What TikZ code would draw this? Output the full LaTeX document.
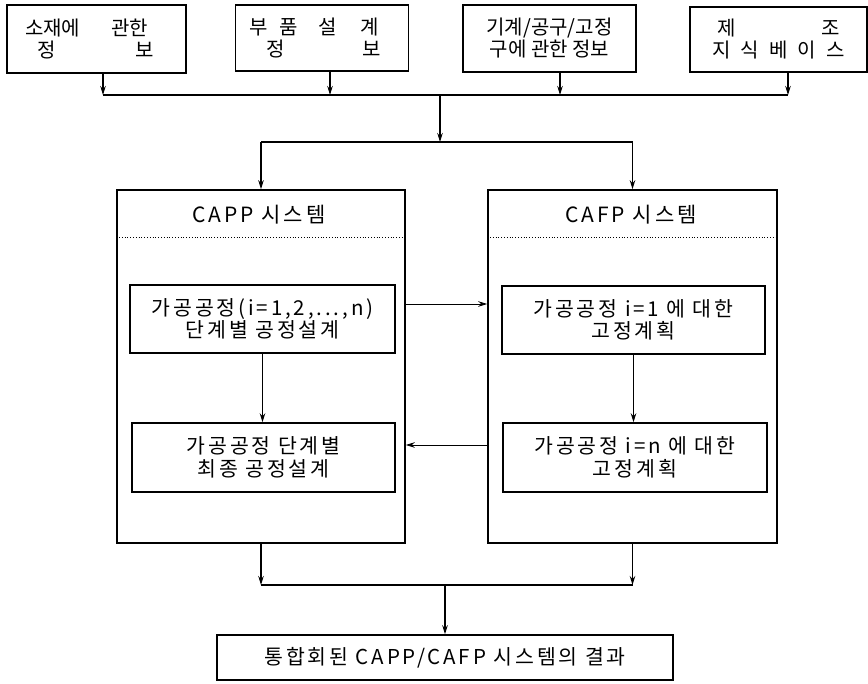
\documentclass[tikz,border=0pt]{standalone}
\usepackage{fontspec}
\setmainfont{Noto Sans CJK KR}
\newfontfamily\krs[LetterSpace=14]{Noto Sans CJK KR}
\usetikzlibrary{arrows.meta}
\begin{document}
\begin{tikzpicture}[x=1pt,y=-1pt,
  topbox/.style={draw,line width=1.5pt,inner sep=0pt,align=center,font=\fontsize{20}{22}\selectfont},
  box/.style={draw,line width=1.5pt,inner sep=0pt,align=center,font=\krs\fontsize{20.5}{22.5}\selectfont},
  outer/.style={draw,line width=1.6pt,inner sep=0pt},
  conn/.style={line width=1.2pt},
  arr/.style={line width=1.2pt,-{Stealth[length=9pt,width=5.5pt]}},
  thin/.style={line width=0.9pt,-{Stealth[length=9pt,width=5.5pt]}},
  lbl/.style={inner sep=0pt,font=\krs\fontsize{21}{22}\selectfont}]
\useasboundingbox (0,0) rectangle (868,684);
% top boxes
\node[topbox,minimum width=179pt,minimum height=68pt] (b1) at (96.5,39)
  {\makebox[179pt][l]{\hspace*{18pt}소재에\hspace*{31pt}관한}\\\makebox[179pt][l]{\hspace*{31pt}정\hspace*{79pt}보}};
\node[topbox,minimum width=173pt,minimum height=66pt] (b2) at (322,38)
  {\makebox[173pt][l]{\hspace*{14pt}부\hspace*{12pt}품\hspace*{20pt}설\hspace*{24pt}계}\\\makebox[173pt][l]{\hspace*{31pt}정\hspace*{78pt}보}};
\node[topbox,minimum width=173pt,minimum height=67pt] (b3) at (549.5,38.5)
  {기계/공구/고정\\구에 관한 정보};
\node[topbox,minimum width=177pt,minimum height=65pt] (b4) at (778.5,39.5)
  {\makebox[122pt]{제\hfill 조}\\\makebox[133pt]{지\hfill 식\hfill 베\hfill 이\hfill 스}};
% bus coordinates
\coordinate (t1) at (103,95);
\coordinate (t2) at (330,95);
\coordinate (t3) at (560,95);
\coordinate (t4) at (788,95);
\coordinate (m) at (440,95);
\coordinate (m2) at (440,142);
% system boxes
\node[outer,minimum width=288pt,minimum height=353pt] (capp) at (261,366.5) {};
\node[outer,minimum width=289pt,minimum height=353pt] (cafp) at (632.5,366.5) {};
\node[lbl] (cappt) at (259,215) {CAPP 시스템};
\node[lbl] (cafpt) at (631,215) {CAFP 시스템};
\draw[line width=0.8pt,dotted] (capp.west |- 0,237) -- (capp.east |- 0,237);
\draw[line width=0.8pt,dotted] (cafp.west |- 0,237) -- (cafp.east |- 0,237);
% inner boxes
\node[box,minimum width=265pt,minimum height=68pt] (in1) at (262.5,319)
  {가공공정(i=1,2,...,n)\\단계별 공정설계};
\node[box,minimum width=263pt,minimum height=69pt] (in2) at (263.5,457.5)
  {가공공정 단계별\\최종 공정설계};
\node[box,minimum width=263pt,minimum height=68pt] (fn1) at (633.5,320)
  {가공공정 i=1 에 대한\\고정계획};
\node[box,minimum width=264pt,minimum height=69pt] (fn2) at (635,457.5)
  {가공공정 i=n 에 대한\\고정계획};
% final box
\node[box,minimum width=456pt,minimum height=45pt] (fin) at (445,657.5)
  {통합회된 CAPP/CAFP 시스템의 결과};
% top connectors
\draw[arr] (b1.south -| t1) -- (t1);
\draw[arr] (b2.south -| t2) -- (t2);
\draw[arr] (b3.south -| t3) -- (t3);
\draw[arr] (b4.south -| t4) -- (t4);
\draw[conn] (t1) -- (t4);
\draw[arr] (m) -- (m2);
\draw[conn] (capp.north |- m2) -- (cafp.north |- m2);
\draw[arr] (capp.north |- m2) -- (capp.north);
\draw[arr] (cafp.north |- m2) -- (cafp.north);
% inner connectors
\draw[thin] (in1.south) -- (in2.north -| in1.south);
\draw[thin] (fn1.south) -- (fn2.north -| fn1.south);
\draw[thin] (capp.east |- 0,304) -- (cafp.west |- 0,304);
\draw[thin] (cafp.west |- 0,445) -- (capp.east |- 0,445);
% bottom connectors
\coordinate (bb) at (445,585);
\draw[arr] (capp.south) -- (capp.south |- bb);
\draw[arr] (cafp.south) -- (cafp.south |- bb);
\draw[conn] (capp.south |- bb) -- (cafp.south |- bb);
\draw[arr] (bb) -- (fin.north);
\end{tikzpicture}
\end{document}
